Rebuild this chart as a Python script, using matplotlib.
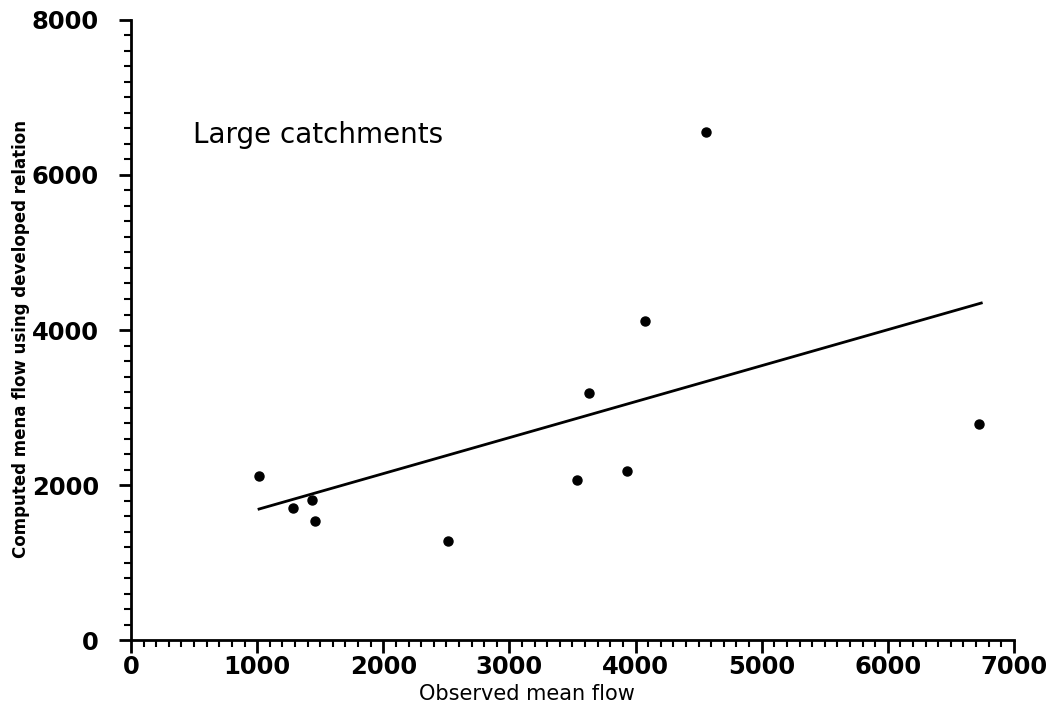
import numpy as np
import matplotlib.pyplot as plt
from matplotlib.ticker import MultipleLocator

# observed vs computed mean flow, large catchments
observed = [1015, 1285, 1435, 1459, 2514, 3537, 3632, 3933, 4076, 4560, 6725]
computed = [2116, 1703, 1806, 1535, 1277, 2065, 3187, 2181, 4116, 6555, 2787]

# fitted relation end points
fit_x = [1015, 6741]
fit_y = [1690, 4348]

fig = plt.figure(figsize=(10.54, 7.21), dpi=100)
ax = fig.add_axes([0.1243, 0.1123, 0.8377, 0.86])

ax.plot(fit_x, fit_y, color='black', linewidth=2)
ax.plot(observed, computed, 'o', color='black', markersize=6.5)

ax.set_xlim(0, 7000)
ax.set_ylim(0, 8000)
ax.xaxis.set_major_locator(MultipleLocator(1000))
ax.xaxis.set_minor_locator(MultipleLocator(100))
ax.yaxis.set_major_locator(MultipleLocator(2000))
ax.yaxis.set_minor_locator(MultipleLocator(200))

for s in ['top', 'right']:
    ax.spines[s].set_visible(False)
for s in ['left', 'bottom']:
    ax.spines[s].set_linewidth(2)

ax.tick_params(which='major', length=9, width=2, direction='out')
ax.tick_params(which='minor', length=5, width=1.5, direction='out')
ax.tick_params(labelsize=17.5)
ax.tick_params(axis='y', pad=14)
ax.tick_params(axis='x', pad=2)
for lbl in ax.get_xticklabels() + ax.get_yticklabels():
    lbl.set_fontweight('bold')

ax.set_xlabel('Observed mean flow', fontsize=15, labelpad=0)
ax.xaxis.set_label_coords(0.448, -0.071)
ax.set_ylabel('Computed mena flow using developed relation', fontsize=12,
              fontweight='bold')
ax.yaxis.set_label_coords(-0.114, 0.485)

ax.text(492, 6516, 'Large catchments', fontsize=20, va='center', ha='left')

fig.savefig('out.png', dpi=100)
